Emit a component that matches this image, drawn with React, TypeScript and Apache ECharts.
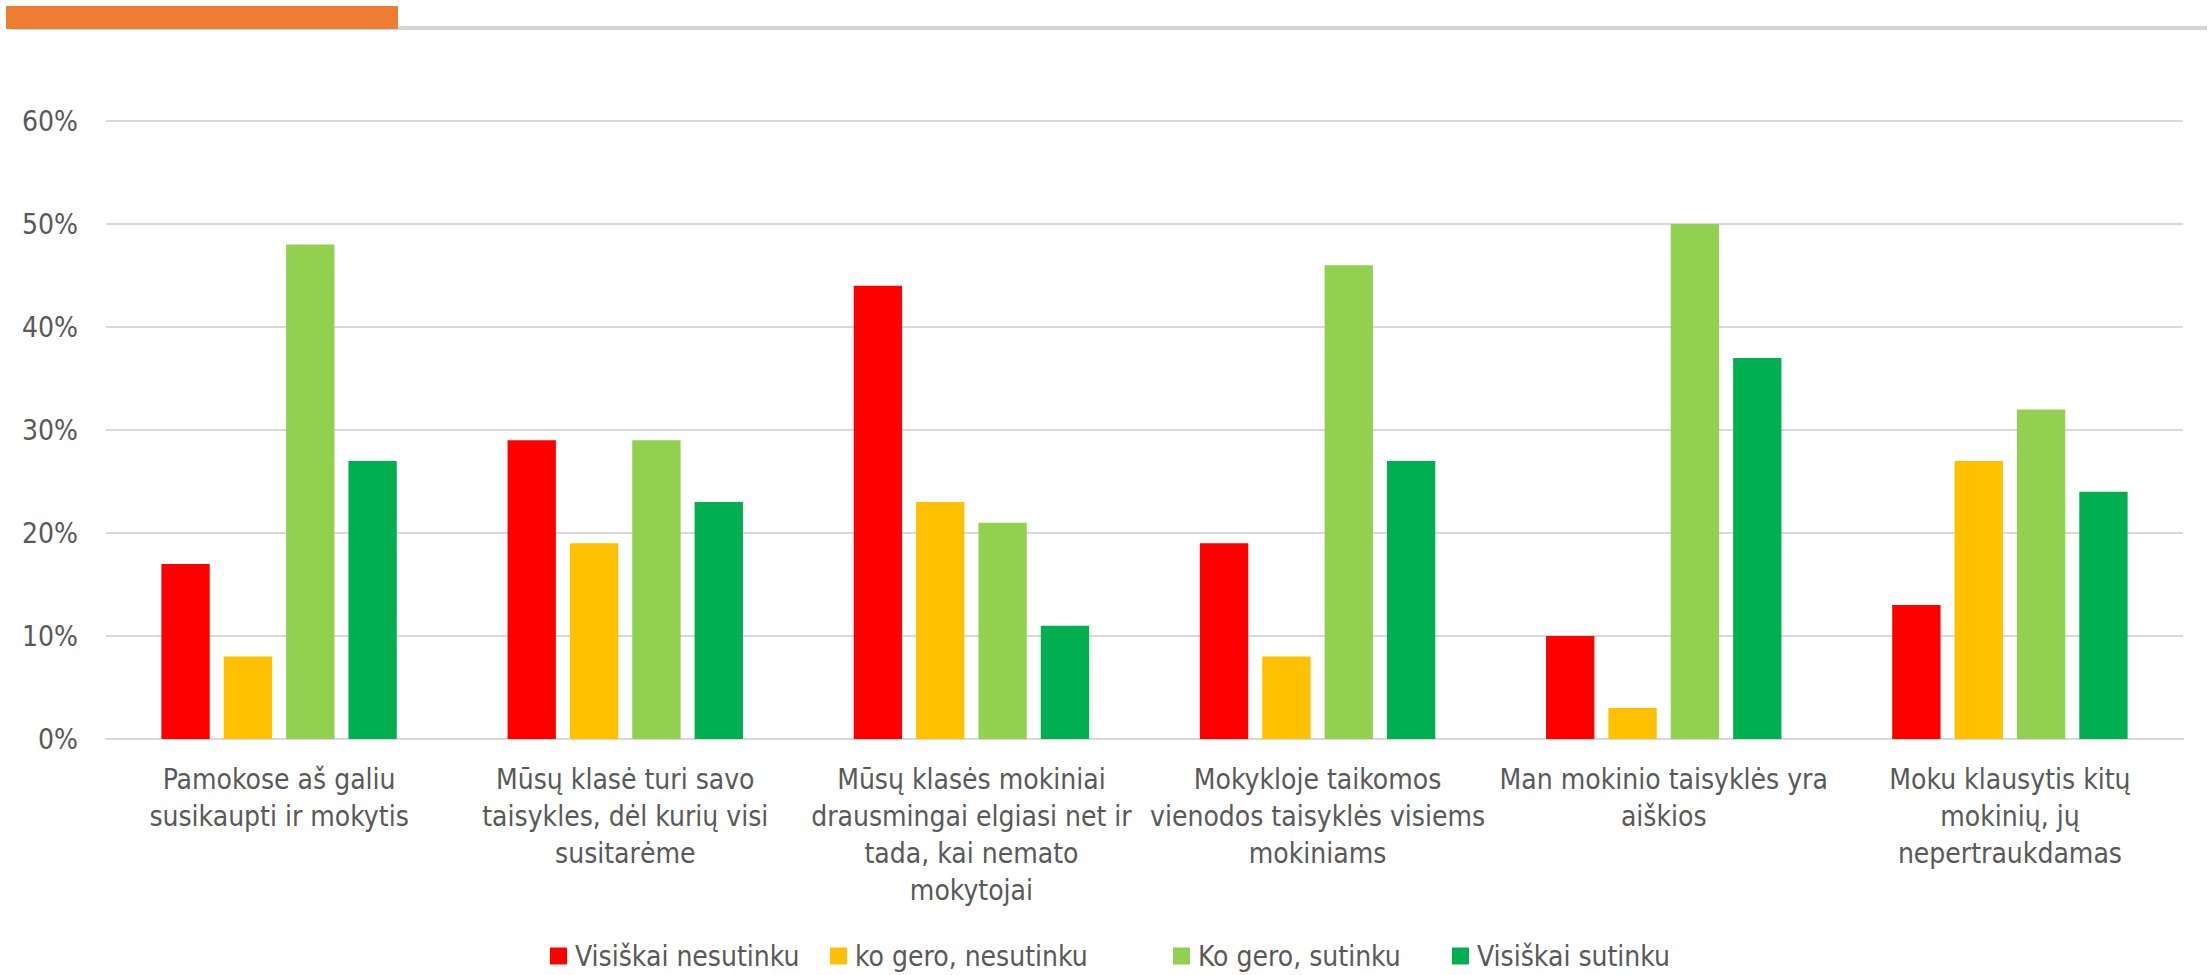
import React, { useEffect, useRef } from "react";
import * as echarts from "echarts";

const categories = [
  "Pamokose aš galiu\nsusikaupti ir mokytis",
  "Mūsų klasė turi savo\ntaisykles, dėl kurių visi\nsusitarėme",
  "Mūsų klasės mokiniai\ndrausmingai elgiasi net ir\ntada, kai nemato\nmokytojai",
  "Mokykloje taikomos\nvienodos taisyklės visiems\nmokiniams",
  "Man mokinio taisyklės yra\naiškios",
  "Moku klausytis kitų\nmokinių, jų\nnepertraukdamas",
];
const seriesNames = ["Visiškai nesutinku", "ko gero, nesutinku", "Ko gero, sutinku", "Visiškai sutinku"];
const visiskaiNesutinku = [17, 29, 44, 19, 10, 13];
const koGeroNesutinku = [8, 19, 23, 8, 3, 27];
const koGeroSutinku = [48, 29, 21, 46, 50, 32];
const visiskaiSutinku = [27, 23, 11, 27, 37, 24];
const colors = ["#FF0000", "#FFC000", "#92D050", "#00B050"];
const yTicks = [0, 10, 20, 30, 40, 50, 60];
const legendLefts = [550, 830, 1173, 1452];

const FONT = "'Liberation Sans Narrow', 'DejaVu Sans Condensed', 'Liberation Sans', sans-serif";
const TXT = "#595959";

export default function App() {
  const ref = useRef<HTMLDivElement>(null);
  useEffect(() => {
    const chart = echarts.init(ref.current!, null, { renderer: "svg" });
    const values = [visiskaiNesutinku, koGeroNesutinku, koGeroSutinku, visiskaiSutinku];
    chart.setOption({
      animation: false,
      textStyle: { fontFamily: FONT },
      grid: { left: 106, right: 28, top: 121, bottom: 975 - 739, containLabel: false },
      graphic: [
        { type: "rect", left: 10, top: 26, shape: { width: 2197, height: 4 }, style: { fill: "#D4D4D4" } },
        { type: "rect", left: 6, top: 6, shape: { width: 392, height: 23 }, style: { fill: "#ED7D31" } },
      ],
      legend: seriesNames.map((name, i) => ({
        data: [name],
        top: 942,
        left: legendLefts[i],
        padding: 0,
        itemWidth: 17,
        itemHeight: 17,
        icon: "rect",
        textStyle: { fontFamily: FONT, fontSize: 28, color: TXT, padding: [0, 0, 0, 3] },
      })),
      xAxis: {
        type: "category",
        data: categories,
        axisLine: { show: true, lineStyle: { color: "#D9D9D9", width: 2 } },
        axisTick: { show: false },
        axisLabel: {
          interval: 0,
          fontFamily: FONT,
          fontSize: 28,
          color: TXT,
          lineHeight: 37,
          margin: 22,
          align: "center",
        },
      },
      yAxis: {
        type: "value",
        min: 0,
        max: 60,
        interval: 10,
        axisLine: { show: false },
        axisTick: { show: false },
        splitLine: { lineStyle: { color: "#D9D9D9", width: 2 } },
        axisLabel: {
          fontFamily: FONT,
          fontSize: 28,
          color: TXT,
          margin: 28,
          formatter: (v: number) => (yTicks.includes(v) ? v + "%" : ""),
        },
      },
      series: seriesNames.map((name, i) => ({
        name,
        type: "bar",
        data: values[i],
        itemStyle: { color: colors[i] },
        barGap: "29%",
        barCategoryGap: "32%",
      })),
    });
    return () => chart.dispose();
  }, []);
  return <div ref={ref} style={{ position: "absolute", left: 0, top: 0, width: 2211, height: 975 }} />;
}
